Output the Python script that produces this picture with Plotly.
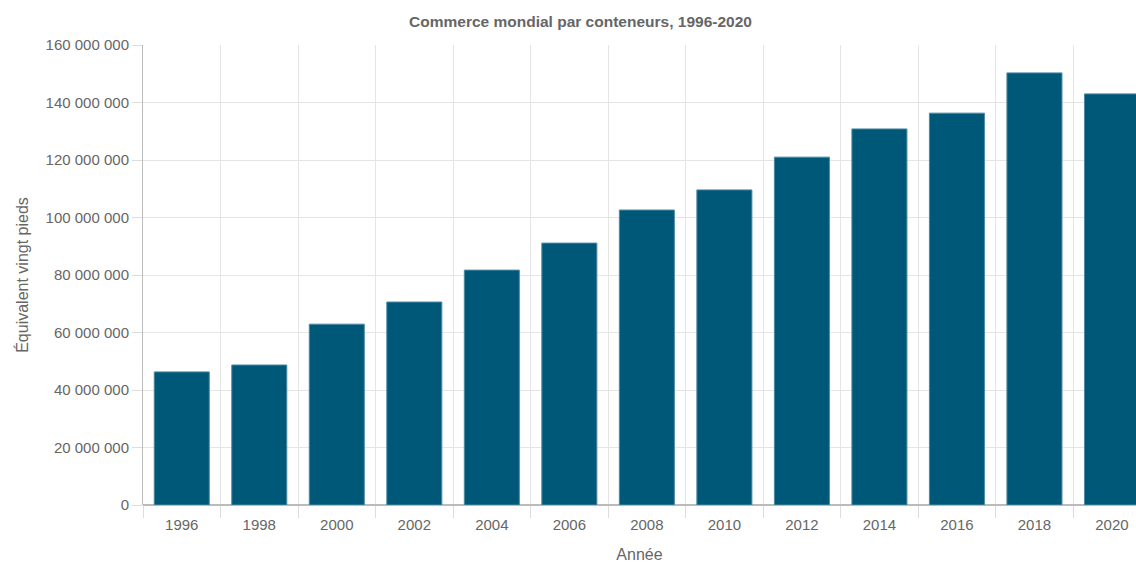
import plotly.graph_objects as go

years = ["1996", "1998", "2000", "2002", "2004", "2006", "2008", "2010", "2012", "2014", "2016", "2018", "2020"]
teu = [46_300_000, 48_700_000, 62_900_000, 70_600_000, 81_700_000, 91_100_000, 102_600_000,
       109_600_000, 121_000_000, 130_800_000, 136_300_000, 150_300_000, 143_000_000]
y_ticks = [0, 20_000_000, 40_000_000, 60_000_000, 80_000_000, 100_000_000, 120_000_000, 140_000_000, 160_000_000]

fig = go.Figure(go.Bar(
    x=years, y=teu, width=0.71,
    marker=dict(color="#005878", line=dict(color="#4d8aa3", width=1)),
))

fig.update_layout(
    width=1136, height=563,
    margin=dict(l=143, r=0, t=45, b=58),
    paper_bgcolor="white", plot_bgcolor="white",
    separators=". ",
    font=dict(family="Liberation Sans, Arial, sans-serif", color="#666666", size=12),
    title=dict(text="<b>Commerce mondial par conteneurs, 1996-2020</b>", x=0.511, xanchor="center",
               y=0.961, yanchor="middle", font=dict(size=15.5, color="#666666")),
    showlegend=False,
)
fig.update_xaxes(
    type="category", range=[-0.5, 12.31],
    tickson="boundaries", ticks="outside", ticklen=12, tickcolor="#dddddd",
    ticklabelstandoff=9,
    showgrid=True, gridcolor="#e5e5e5", gridwidth=1,
    showline=False, zeroline=False,
    tickfont=dict(size=15, color="#666666"),
    title=dict(text="Année", font=dict(size=16, color="#666666"), standoff=19),
)
fig.update_yaxes(
    range=[0, 160_000_000], tickvals=y_ticks, tickformat=",d",
    ticks="outside", ticklen=10, tickcolor="#dddddd",
    showgrid=True, gridcolor="#e5e5e5", gridwidth=1,
    showline=True, linecolor="#bbbbbb", linewidth=1,
    zeroline=True, zerolinecolor="#bbbbbb", zerolinewidth=1.5,
    tickfont=dict(size=15, color="#666666"),
    title=dict(text="Équivalent vingt pieds", font=dict(size=16, color="#666666"), standoff=12),
)

fig.write_html("out.html")
